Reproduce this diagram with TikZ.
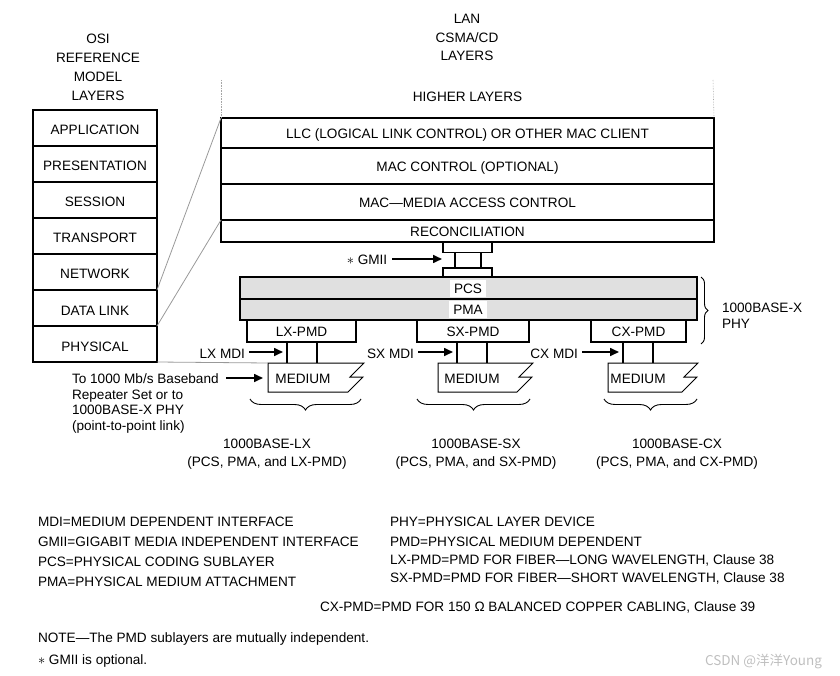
\documentclass[tikz,border=0pt]{standalone}
\usepackage{fontspec}
\setmainfont{Liberation Sans}
\newfontfamily\cjkfont{Noto Sans CJK SC}
\usetikzlibrary{arrows.meta,decorations.pathreplacing,calc}
\begin{document}
\begin{tikzpicture}[x=1pt,y=-1pt,
  every node/.style={font=\fontsize{13.6}{15}\selectfont, inner sep=0pt, outer sep=0pt},
  layerbox/.style={draw, line width=1.8pt, anchor=north west, align=center, text height=10.5pt, text depth=0pt},
  osibox/.style={layerbox, minimum width=124pt, minimum height=36pt, text height=14pt},
  arr/.style={line width=1.6pt, -{Triangle[length=9pt,width=8pt]}},
  conn/.style={line width=1.8pt},
  link/.style={draw=gray!80, line width=0.8pt},
  guide/.style={draw=gray!70, line width=0.6pt, densely dotted},
  medium/.style={draw, line width=1pt},
  under/.style={decorate, decoration={brace, mirror, amplitude=11pt}, line width=0.9pt},
  side/.style={decorate, decoration={brace, amplitude=7pt}, line width=0.9pt},
  shade/.style={fill=gray!24},
  tag/.style={fill=white, inner xsep=4pt, minimum height=17pt, text height=10.5pt, text depth=0pt},
]
\useasboundingbox (0,0) rectangle (840,676);

% titles
\node[align=center, anchor=north, font=\fontsize{13.6}{19}\selectfont] (osititle) at (98,34) {OSI\\REFERENCE\\MODEL\\LAYERS};
\node[align=center, anchor=north, font=\fontsize{13.6}{18.5}\selectfont] (lantitle) at (467,14.5) {LAN\\CSMA/CD\\LAYERS};

% OSI stack
\foreach \t/\n [count=\i from 0] in {APPLICATION/app,PRESENTATION/pres,SESSION/sess,TRANSPORT/trans,NETWORK/net,DATA LINK/dl,PHYSICAL/phys}
  \node[osibox] (\n) at (33,110+36*\i) {\t};

% LAN stack
\node (higher) at (467.5,97) {HIGHER LAYERS};
\node[layerbox, minimum width=493pt, minimum height=30pt, text height=11.5pt] (llc) at (221,118) {LLC (LOGICAL LINK CONTROL) OR OTHER MAC CLIENT};
\node[layerbox, minimum width=493pt, minimum height=36pt] (macc) at (221,148) {MAC CONTROL (OPTIONAL)};
\node[layerbox, minimum width=493pt, minimum height=36pt] (mac) at (221,184) {MAC---MEDIA ACCESS CONTROL};
\node[layerbox, minimum width=493pt, minimum height=22pt] (rec) at (221,220) {RECONCILIATION};

\draw[guide] (221,80) -- (llc.north west);
\draw[guide] (713,80) -- (llc.north east);

% mapping lines
\draw[link] (net.south east) -- (llc.north west);
\draw[link] (dl.south east) -- (rec.north west);

% GMII connector
\node[layerbox, minimum width=49pt, minimum height=8pt] (gtop) at (443,242) {};
\node[layerbox, minimum width=49pt, minimum height=9pt] (gbot) at (443,268) {};
\draw[conn] ($(gtop.south west)+(12,0)$) -- ($(gbot.north west)+(12,0)$);
\draw[conn] ($(gtop.south west)+(38,0)$) -- ($(gbot.north west)+(38,0)$);
\node (gmii) at (367,260) {$\ast$ GMII};
\coordinate (gmiitip) at (442,259);
\draw[arr] ([xshift=5pt]gmii.east |- gmiitip) -- (gmiitip);

% PCS / PMA
\node[layerbox, shade, minimum width=457pt, minimum height=22pt] (pcs) at (240,277) {};
\node[layerbox, shade, minimum width=457pt, minimum height=21pt] (pma) at (240,299) {};
\node[tag] (pcslbl) at (468,288) {PCS};
\node[tag] (pmalbl) at (468,309.5) {PMA};

% PMD boxes
\node[layerbox, minimum width=109pt, minimum height=22pt] (lxpmd) at (247,320) {LX-PMD};
\node[layerbox, minimum width=112pt, minimum height=22pt] (sxpmd) at (417,320) {SX-PMD};
\node[layerbox, minimum width=95pt, minimum height=22pt] (cxpmd) at (591,320) {CX-PMD};

% MDI connectors
\draw[conn] ($(lxpmd.south west)+(40,0)$) -- ++(0,21);
\draw[conn] ($(lxpmd.south west)+(70,0)$) -- ++(0,21);
\draw[conn] ($(sxpmd.south west)+(40,0)$) -- ++(0,21);
\draw[conn] ($(sxpmd.south west)+(70,0)$) -- ++(0,21);
\draw[conn] ($(cxpmd.south west)+(32,0)$) -- ++(0,21);
\draw[conn] ($(cxpmd.south west)+(62,0)$) -- ++(0,21);

\node[anchor=east] (lxmdi) at (245,353.5) {LX MDI};
\node[anchor=east] (sxmdi) at (414,353.5) {SX MDI};
\node[anchor=east] (cxmdi) at (578,353.5) {CX MDI};
\draw[arr] ([xshift=4pt]lxmdi.east |- 0,352) -- ($(lxpmd.south west)+(36,10)$);
\draw[arr] ([xshift=4pt]sxmdi.east |- 0,352) -- ($(sxpmd.south west)+(36,10)$);
\draw[arr] ([xshift=4pt]cxmdi.east |- 0,352) -- ($(cxpmd.south west)+(28,10)$);

% media
\draw[medium] (268,363) coordinate (lxm) -- ++(96,0) -- ++(-14,14) -- ++(13,0) -- ++(-15,15) -- ++(-80,0) -- cycle;
\draw[medium] (438,363) coordinate (sxm) -- ++(95,0) -- ++(-14,14) -- ++(13,0) -- ++(-15,15) -- ++(-79,0) -- cycle;
\draw[medium] (608,363) coordinate (cxm) -- ++(90,0) -- ++(-14,14) -- ++(13,0) -- ++(-15,15) -- ++(-74,0) -- cycle;
\node[text height=10pt, text depth=0pt] (lxmed) at (303,378.5) {MEDIUM};
\node[text height=10pt, text depth=0pt] (sxmed) at (472,378.5) {MEDIUM};
\node[text height=10pt, text depth=0pt] (cxmed) at (638,378.5) {MEDIUM};

\draw[link] (phys.south east) -- (lxm);

\node[align=left, anchor=north west, font=\fontsize{13.6}{15.4}\selectfont] (repeater) at (72,374) {To 1000 Mb/s Baseband\\Repeater Set or to\\1000BASE-X PHY\\(point-to-point link)};
\coordinate (reptip) at (263,378);
\draw[arr] (226,378) -- (reptip);

% braces
\draw[under] (250,399) -- (361,399);
\draw[under] (417,399) -- (530,399);
\draw[under] (604,399) -- (697,399);
\draw[side] (701,277) -- (701,344);
\node[align=left, anchor=north west, font=\fontsize{13.6}{16}\selectfont] (phy) at (722,303.5) {1000BASE-X\\PHY};

\node[align=center, font=\fontsize{13.6}{18}\selectfont] (lxname) at (267,454) {1000BASE-LX\\(PCS, PMA, and LX-PMD)};
\node[align=center, font=\fontsize{13.6}{18}\selectfont] (sxname) at (476,454) {1000BASE-SX\\(PCS, PMA, and SX-PMD)};
\node[align=center, font=\fontsize{13.6}{18}\selectfont] (cxname) at (677,454) {1000BASE-CX\\(PCS, PMA, and CX-PMD)};

% legend
\node[align=left, anchor=north west, font=\fontsize{13.6}{20}\selectfont] (legl) at (38,517) {MDI=MEDIUM DEPENDENT INTERFACE\\GMII=GIGABIT MEDIA INDEPENDENT INTERFACE\\PCS=PHYSICAL CODING SUBLAYER\\PMA=PHYSICAL MEDIUM ATTACHMENT};
\node[align=left, anchor=north west, font=\fontsize{13.6}{18}\selectfont] (legr) at (390,517) {PHY=PHYSICAL LAYER DEVICE\\[2pt]PMD=PHYSICAL MEDIUM DEPENDENT\\LX-PMD=PMD FOR FIBER---LONG WAVELENGTH, Clause 38\\SX-PMD=PMD FOR FIBER---SHORT WAVELENGTH, Clause 38};
\node[anchor=west] (legcx) at (320,607.5) {CX-PMD=PMD FOR 150 Ω BALANCED COPPER CABLING, Clause 39};
\node[anchor=west] (note) at (38,638.5) {NOTE---The PMD sublayers are mutually independent.};
\node[anchor=west] (opt) at (38,660.5) {$\ast$ GMII is optional.};
\node[anchor=east, text=gray!50, font=\cjkfont\fontsize{13.5}{15}\selectfont] (wm) at (822,661) {CSDN @洋洋Young};
\end{tikzpicture}
\end{document}
